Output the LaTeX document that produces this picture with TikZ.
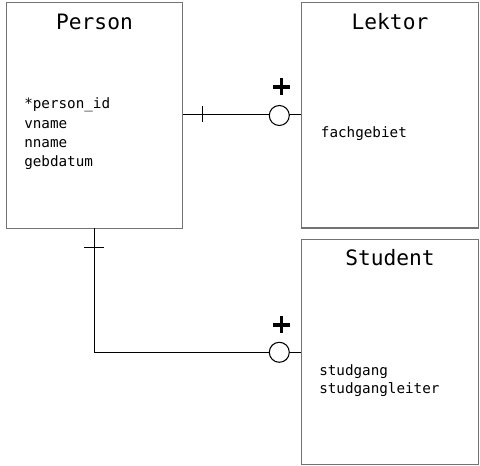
\documentclass[tikz,border=0pt]{standalone}
\usepackage{fontspec}
\setmonofont{DejaVu Sans Mono}
\begin{document}
\begin{tikzpicture}[x=0.75pt,y=-0.75pt,
  entity/.style={draw=black!55,line width=0.9pt,fill=white,minimum width=176.5*0.75pt,minimum height=225.5*0.75pt,inner sep=0pt},
  title/.style={font=\ttfamily\fontsize{15.9}{18}\selectfont,inner sep=0pt},
  attr/.style={font=\ttfamily\fontsize{10.7}{14.3}\selectfont,anchor=west,inner sep=0pt,align=left},
  conn/.style={draw=black,line width=0.8pt},
  ring/.style={circle,draw=black,line width=0.8pt,fill=white,minimum size=20*0.75pt,inner sep=0pt}]
\useasboundingbox (0,0) rectangle (480,466);
\node[entity] (person) at (94.5,115.5) {};
\node[entity] (lektor) at (390,115.2) {};
\node[entity] (student) at (390,352) {};
\node[title] (pt) at (94.5,21.7) {Person};
\node[title] (lt) at (390,21.7) {Lektor};
\node[title] (st) at (390,258) {Student};
\node[attr] (pa) at (24,105) {*person\_id};
\node[attr] (pb) at (24,124.3) {vname};
\node[attr] (pc) at (24,143.3) {nname};
\node[attr] (pd) at (24,162.7) {gebdatum};
\node[attr] (la) at (320.7,134) {fachgebiet};
\node[attr] (sa) at (319,371.7) {studgang};
\node[attr] (sb) at (319,390) {studgangleiter};
% connector Person - Lektor
\coordinate (a1) at (183,114.5);
\coordinate (b1) at (301,114.5);
\draw[conn] (a1) -- (b1);
\coordinate (t1) at (202.3,114.5);
\draw[conn] ([yshift=8*0.75pt]t1) -- ([yshift=-8*0.75pt]t1);
\node[ring] (r1) at (279.3,115.5) {};
\draw[line width=2.3pt] (273,87) -- (290.5,87) (281.7,78.5) -- (281.7,95.5);
% connector Person - Student
\coordinate (a2) at (94.3,228);
\coordinate (k2) at (94.3,352.3);
\coordinate (b2) at (301,352.3);
\draw[conn] (a2) -- (k2) -- (b2);
\coordinate (t2) at (94.3,247.7);
\draw[conn] ([xshift=-10*0.75pt]t2) -- ([xshift=10*0.75pt]t2);
\node[ring] (r2) at (279.3,352.3) {};
\draw[line width=2.3pt] (273,325) -- (290.5,325) (281.7,316.5) -- (281.7,333.5);
\end{tikzpicture}
\end{document}
